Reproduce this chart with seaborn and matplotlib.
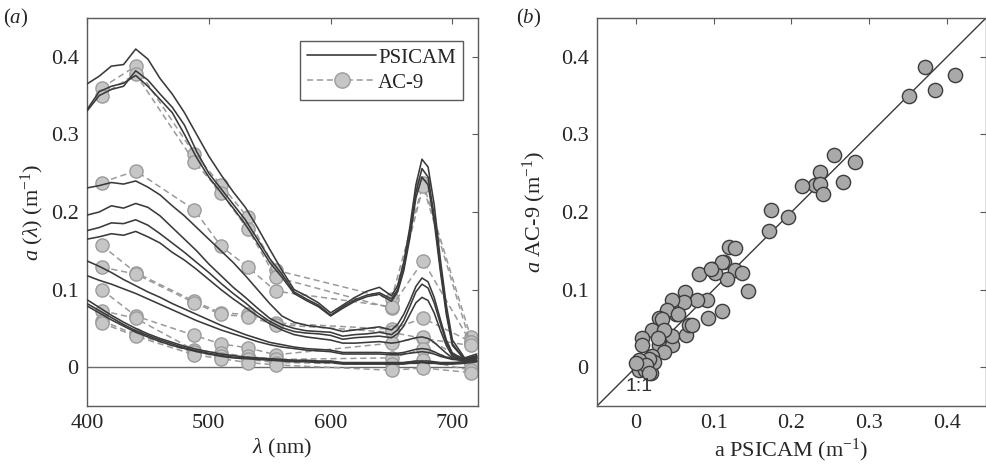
import numpy as np
import pandas as pd
import matplotlib
matplotlib.use("Agg")
import matplotlib.pyplot as plt
import seaborn as sns
from matplotlib.lines import Line2D

# ================= DATA =================
# PSICAM spectra, one list per station, on this wavelength grid
wl = [400, 410, 420, 430, 440, 450, 460, 470, 480, 490, 500, 510, 520, 530, 540, 550,
      560, 570, 580, 590, 600, 610, 620, 630, 640, 650, 655, 660, 665, 670, 675, 680,
      685, 690, 695, 700, 710, 720]

psicam_A1 = [.365, .375, .388, .390, .410, .397, .372, .352, .328, .300, .272, .248, .226, .206, .180, .152,
             .125, .100, .092, .083, .070, .080, .090, .098, .103, .092, .105, .135, .180, .235, .268, .258,
             .210, .140, .080, .035, .012, .017]
psicam_A2 = [.330, .350, .358, .362, .382, .370, .352, .335, .312, .278, .250, .230, .210, .190, .165, .140,
             .120, .097, .088, .080, .067, .078, .087, .093, .096, .088, .100, .128, .172, .225, .256, .245,
             .195, .130, .072, .030, .010, .015]
psicam_A3 = [.332, .355, .362, .366, .376, .362, .345, .328, .300, .270, .245, .225, .205, .184, .160, .135,
             .116, .095, .086, .078, .066, .076, .085, .091, .094, .085, .097, .124, .166, .218, .245, .235,
             .188, .125, .068, .028, .010, .014]
psicam_B = [.231, .234, .238, .236, .240, .232, .222, .208, .195, .180, .165, .150, .135, .118, .100, .082,
            .066, .058, .054, .052, .050, .046, .048, .050, .052, .048, .055, .068, .085, .104, .115, .110,
            .090, .062, .035, .018, .010, .014]
psicam_C1 = [.196, .200, .208, .205, .211, .206, .195, .180, .165, .150, .133, .118, .103, .090, .076, .063,
             .055, .050, .047, .046, .045, .040, .042, .043, .045, .042, .048, .060, .078, .097, .107, .102,
             .083, .057, .032, .016, .009, .013]
psicam_C2 = [.176, .180, .186, .185, .190, .183, .172, .160, .148, .135, .122, .108, .095, .083, .070, .059,
             .051, .046, .044, .043, .041, .036, .038, .039, .040, .038, .043, .053, .068, .083, .090, .086,
             .070, .048, .028, .014, .008, .012]
psicam_C3 = [.165, .168, .172, .170, .175, .168, .160, .148, .138, .126, .113, .100, .088, .077, .066, .056,
             .048, .042, .039, .037, .035, .031, .031, .032, .033, .031, .032, .034, .036, .038, .039, .037,
             .032, .025, .018, .012, .008, .011]
psicam_D1 = [.137, .130, .122, .113, .105, .097, .090, .082, .075, .068, .061, .054, .048, .042, .037, .032,
             .029, .026, .024, .023, .022, .019, .019, .019, .019, .018, .018, .019, .021, .023, .024, .023,
             .020, .016, .013, .011, .009, .012]
psicam_D2 = [.118, .112, .107, .101, .095, .088, .081, .074, .067, .060, .054, .048, .043, .038, .033, .029,
             .026, .024, .022, .021, .020, .017, .017, .017, .017, .016, .016, .017, .018, .019, .020, .019,
             .017, .014, .012, .010, .009, .011]
psicam_E1 = [.087, .077, .067, .058, .050, .043, .037, .032, .027, .023, .020, .017, .015, .013, .012, .011,
             .010, .009, .009, .008, .008, .006, .006, .006, .006, .006, .006, .006, .007, .008, .008, .008,
             .007, .006, .006, .006, .007, .009]
psicam_E2 = [.082, .073, .064, .055, .047, .041, .035, .030, .025, .021, .018, .015, .013, .012, .011, .010,
             .009, .008, .008, .007, .007, .005, .005, .005, .005, .005, .005, .005, .006, .006, .007, .006,
             .006, .005, .005, .005, .006, .008]
psicam_E3 = [.079, .070, .061, .053, .045, .039, .033, .028, .024, .020, .017, .014, .012, .011, .010, .009,
             .008, .007, .007, .006, .006, .004, .004, .004, .004, .004, .004, .004, .005, .005, .006, .005,
             .005, .004, .004, .004, .005, .007]

psicam = {"A1": psicam_A1, "A2": psicam_A2, "A3": psicam_A3, "B": psicam_B,
          "C1": psicam_C1, "C2": psicam_C2, "C3": psicam_C3, "D1": psicam_D1,
          "D2": psicam_D2, "E1": psicam_E1, "E2": psicam_E2, "E3": psicam_E3}

# AC-9 channels
ac9_wl = [412, 440, 488, 510, 532, 555, 650, 676, 715]
ac9_S1 = [0.360, 0.388, 0.275, 0.235, 0.193, 0.125, 0.088, 0.237, 0.039]
ac9_S2 = [0.350, 0.378, 0.265, 0.225, 0.178, 0.116, 0.076, 0.233, 0.030]
ac9_S3 = [0.238, 0.253, 0.203, 0.156, 0.129, 0.098, 0.078, 0.137, 0.032]
ac9_S4 = [0.157, 0.122, 0.085, 0.070, 0.068, 0.057, 0.049, 0.063, 0.033]
ac9_S5 = [0.129, 0.120, 0.083, 0.068, 0.065, 0.055, 0.045, 0.037, 0.028]
ac9_S6 = [0.100, 0.066, 0.041, 0.030, 0.025, 0.016, 0.031, 0.039, 0.006]
ac9_S7 = [0.073, 0.063, 0.022, 0.018, 0.014, 0.010, 0.012, 0.023, 0.004]
ac9_S8 = [0.060, 0.042, 0.019, 0.014, 0.010, 0.006, 0.004, 0.009, -0.004]
ac9_S9 = [0.057, 0.040, 0.016, 0.011, 0.006, 0.003, -0.004, -0.001, -0.007]
ac9 = {"S1": ac9_S1, "S2": ac9_S2, "S3": ac9_S3, "S4": ac9_S4, "S5": ac9_S5,
       "S6": ac9_S6, "S7": ac9_S7, "S8": ac9_S8, "S9": ac9_S9}

# panel (b): matched PSICAM / AC-9 values
scat_psicam = [0.372, 0.410, 0.385, 0.351, 0.255, 0.281, 0.266, 0.236, 0.230, 0.237, 0.213, 0.240,
               0.174, 0.195, 0.171, 0.120, 0.128, 0.113, 0.128, 0.137, 0.117, 0.081, 0.098, 0.102,
               0.144, 0.111, 0.093, 0.092, 0.079, 0.063, 0.062, 0.046, 0.051, 0.040, 0.030, 0.034,
               0.021, 0.008, 0.008, 0.030, 0.047, 0.047, 0.064, 0.068, 0.072, 0.036, 0.036, 0.021,
               0.012, 0.006, 0.004, 0.017, 0.019, 0.023, 0.012, 0.054, 0.028, 0.017, 0.004, 0.013,
               0.000, 0.017, 0.111, 0.096]
scat_ac9 = [0.387, 0.376, 0.357, 0.349, 0.274, 0.264, 0.239, 0.252, 0.235, 0.236, 0.233, 0.223,
            0.203, 0.193, 0.176, 0.155, 0.154, 0.136, 0.125, 0.122, 0.114, 0.120, 0.127, 0.122,
            0.098, 0.073, 0.064, 0.086, 0.086, 0.097, 0.084, 0.087, 0.069, 0.074, 0.064, 0.062,
            0.048, 0.037, 0.028, 0.028, 0.028, 0.040, 0.041, 0.054, 0.054, 0.048, 0.020, 0.015,
            0.007, 0.003, -0.004, 0.000, -0.007, 0.007, -0.004, 0.069, 0.037, 0.011, 0.009, 0.003,
            0.005, -0.008, 0.135, 0.127]

# ================= LONG TABLES =================
df_ps = pd.concat([pd.DataFrame({"station": k, "wl": wl, "a": v}) for k, v in psicam.items()])
df_ac = pd.concat([pd.DataFrame({"station": k, "wl": ac9_wl, "a": v}) for k, v in ac9.items()])
df_sc = pd.DataFrame({"psicam": scat_psicam, "ac9": scat_ac9})

# ================= STYLE =================
sns.set_theme(style="white")
plt.rcParams["font.family"] = ["Liberation Serif", "DejaVu Serif"]
plt.rcParams["mathtext.fontset"] = "custom"
plt.rcParams["mathtext.rm"] = "Liberation Serif"
plt.rcParams["mathtext.it"] = "Liberation Serif:italic"

SPINE = "#5a5a5a"
LINE = "#3a3a3a"
FS = 16

fig = plt.figure(figsize=(9.87, 4.72), dpi=100)
ax1 = fig.add_axes([87 / 987, 1 - 406 / 472, 391 / 987, 388 / 472])
ax2 = fig.add_axes([597 / 987, 1 - 406 / 472, 389 / 987, 388 / 472])

# ---- panel (a) ----
ax1.axhline(0, color="#6a6a6a", lw=1.0, zorder=1)
sns.lineplot(data=df_ac, x="wl", y="a", units="station", estimator=None, ax=ax1,
             color="#9a9a9a", lw=1.1, linestyle=(0, (4, 2.5)), marker="o", markersize=9.5,
             markerfacecolor="#c6c6c6", markeredgecolor="#9c9c9c", markeredgewidth=1.0,
             legend=False, zorder=2)
sns.lineplot(data=df_ps, x="wl", y="a", units="station", estimator=None, ax=ax1,
             color=LINE, lw=1.15, legend=False, zorder=3)

ax1.set_xlim(400, 721)
ax1.set_ylim(-0.05, 0.45)
ax1.set_xticks([400, 500, 600, 700])
ax1.set_yticks([0, 0.1, 0.2, 0.3, 0.4])
ax1.set_yticklabels(["0", "0.1", "0.2", "0.3", "0.4"])
ax1.set_xlabel(r"$\lambda$ (nm)", fontsize=FS)
ax1.set_ylabel(r"$a$ ($\lambda$) (m$^{-1}$)", fontsize=FS)

handles = [Line2D([], [], color=LINE, lw=1.2),
           Line2D([], [], color="#9a9a9a", lw=1.1, linestyle=(0, (4, 2.5)), marker="o",
                  markersize=11, markerfacecolor="#c6c6c6", markeredgecolor="#9c9c9c")]
leg = ax1.legend(handles, ["PSICAM", "AC-9"], loc="upper right", bbox_to_anchor=(0.962, 0.941),
                 borderaxespad=0, fontsize=15, handlelength=3.3, handletextpad=0.1,
                 fancybox=False, framealpha=1, borderpad=0.35, labelspacing=0.25)
leg.get_frame().set_edgecolor(SPINE)
leg.get_frame().set_linewidth(1.0)

# ---- panel (b) ----
ax2.plot([-0.05, 0.45], [-0.05, 0.45], color=LINE, lw=1.0, zorder=1)
sns.scatterplot(data=df_sc, x="psicam", y="ac9", ax=ax2, s=105, color="#a9a9a9",
                edgecolor="#3c3c3c", linewidth=1.0, zorder=2, legend=False)
ax2.text(0.004, -0.025, "1:1", fontsize=14, ha="center", va="center", color="#333333",
         family="Liberation Sans")
ax2.set_xlim(-0.05, 0.45)
ax2.set_ylim(-0.05, 0.45)
for a in (ax2.set_xticks, ax2.set_yticks):
    a([0, 0.1, 0.2, 0.3, 0.4])
ax2.set_xticklabels(["0", "0.1", "0.2", "0.3", "0.4"])
ax2.set_yticklabels(["0", "0.1", "0.2", "0.3", "0.4"])
ax2.set_xlabel(r"a PSICAM (m$^{-1}$)", fontsize=FS)
ax2.set_ylabel(r"$a$ AC-9 (m$^{-1}$)", fontsize=FS)

for ax in (ax1, ax2):
    ax.tick_params(direction="in", top=True, right=True, length=4, width=0.8,
                   color=SPINE, labelsize=FS, pad=6)
    for sp in ax.spines.values():
        sp.set_color(SPINE)
        sp.set_linewidth(1.0)
    ax.xaxis.set_label_coords(0.5, -0.08)
ax1.yaxis.set_label_coords(-0.105, 0.5)
ax2.yaxis.set_label_coords(-0.125, 0.5)

fig.text(0.003, 0.985, r"($a$)", fontsize=15, va="top", ha="left")
fig.text(0.523, 0.985, r"($b$)", fontsize=15, va="top", ha="left")

fig.savefig("out.png", dpi=100)
